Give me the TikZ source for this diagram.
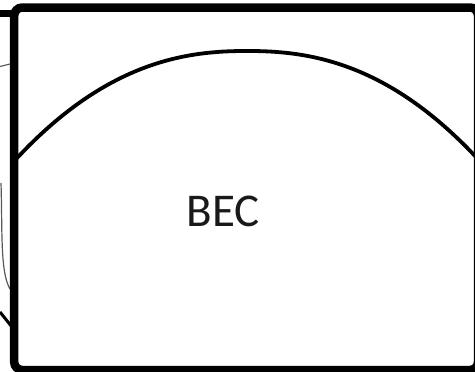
\documentclass[tikz,border=0pt]{standalone}
\usepackage{fontspec}
\setmainfont{Carlito}
\begin{document}
\begin{tikzpicture}[x=1pt,y=-1pt,
  frame/.style={draw=black,line width=8.5pt,rounded corners=8pt},
  wave/.style={draw=black,line width=3.8pt},
  stub/.style={draw=black,line width=6.5pt},
  thinline/.style={draw=gray!70!black,line width=1.2pt},
  label/.style={font=\fontsize{47}{50}\selectfont,text=black!90}]
\useasboundingbox (0,0) rectangle (475,372);
\clip (0,0) rectangle (475,372);
% outside fragments on the left
\coordinate (s1) at (0,13.5);
\coordinate (s2) at (12,13.5);
\draw[stub] (s1) -- (s2);
\coordinate (g1) at (0,66.5);
\coordinate (g2) at (10,64);
\draw[thinline] (g1) -- (g2);
\coordinate (c1) at (1,183);
\coordinate (c2) at (10,289);
\draw[thinline] (c1) .. controls (2.5,230) and (0,272) .. (c2);
\coordinate (d1) at (0,312);
\coordinate (d2) at (12,327);
\draw[draw=black,line width=3pt] (d1) -- (d2);
% wave
\draw[wave] plot[domain=14:478,samples=150,smooth] (\x,{51+106*pow(abs(\x-247)/229+0.0001,2.3)});
% frame
\draw[frame,fill=none] (14.2,7.5) rectangle (478,370);
\node[label] (bec) at (223,211) {BEC};
\end{tikzpicture}
\end{document}
